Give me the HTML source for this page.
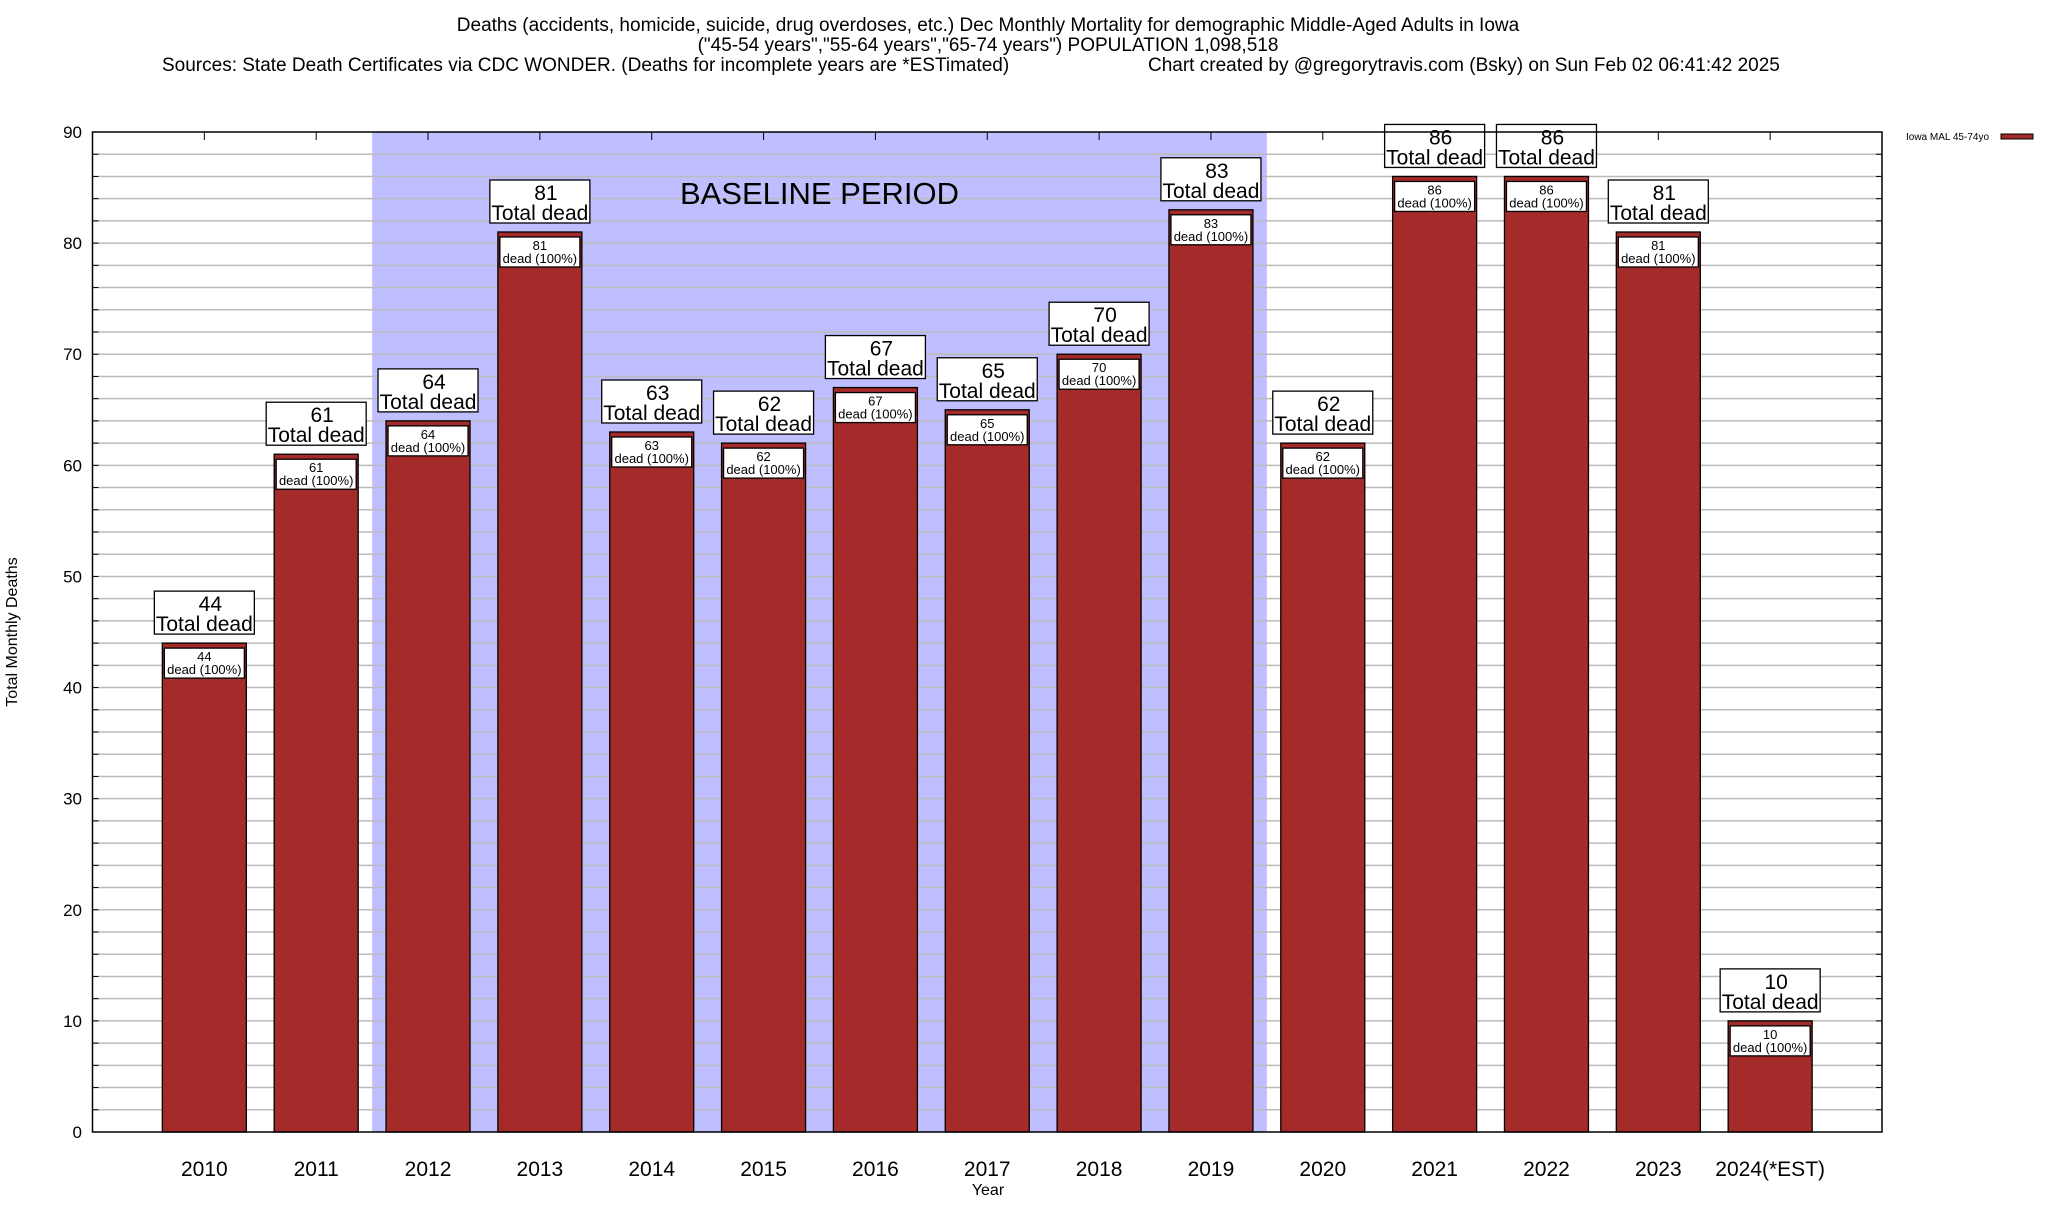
<!DOCTYPE html>
<html><head><meta charset="utf-8"><style>
body{margin:0;background:#fff;}
svg text{font-family:"Liberation Sans",sans-serif;}
</style></head><body>
<svg id="chart" width="2048" height="1200" xmlns="http://www.w3.org/2000/svg">
<g font-size="19" fill="#000">
<text x="988" y="31" text-anchor="middle">Deaths (accidents, homicide, suicide, drug overdoses, etc.) Dec Monthly Mortality for demographic Middle-Aged Adults in Iowa</text>
<text x="988" y="51" text-anchor="middle">("45-54 years","55-64 years","65-74 years") POPULATION 1,098,518</text>
<text x="162" y="71">Sources: State Death Certificates via CDC WONDER. (Deaths for incomplete years are *ESTimated)</text>
<text x="1148" y="71">Chart created by @gregorytravis.com (Bsky) on Sun Feb 02 06:41:42 2025</text>
</g>
<g id="plot"></g>
<text x="17" y="632" font-size="16" text-anchor="middle" transform="rotate(-90 17 632)">Total Monthly Deaths</text>
<text x="988" y="1195" font-size="16" text-anchor="middle">Year</text>
<g>
<text x="1906" y="140" font-size="10">Iowa MAL 45-74yo</text>
<rect x="2001" y="134" width="32" height="5" fill="#a52a2a" stroke="#000" stroke-width="1"/>
</g>
</svg>
<script>
const categories=["2010","2011","2012","2013","2014","2015","2016","2017","2018","2019","2020","2021","2022","2023","2024(*EST)"];
const values=[44,61,64,81,63,62,67,65,70,83,62,86,86,81,10];
const yTicks=[0,10,20,30,40,50,60,70,80,90];
const baselineStart=1.5, baselineEnd=9.5;
const L=92.5,R=1882,T=132,B=1132,yMax=90,nSlots=16;
const ns="http://www.w3.org/2000/svg";
const g=document.getElementById('plot');
const xs=i=>L+(i+1)*(R-L)/nSlots;
const xpos=v=>L+(v+1)*(R-L)/nSlots;
const ys=v=>B-v*(B-T)/yMax;
function mk(tag,attrs,parent){const e=document.createElementNS(ns,tag);for(const k in attrs)e.setAttribute(k,attrs[k]);(parent||g).appendChild(e);return e;}
const sh=mk('rect',{x:xpos(baselineStart),y:T,width:xpos(baselineEnd)-xpos(baselineStart),height:B-T,fill:'#bfbfff'});


for(let v=2;v<yMax;v+=2){const ln=mk('line',{x1:L,x2:R,y1:ys(v),y2:ys(v),stroke:'#bbb','stroke-width':1.5});


mk('line',{x1:L,x2:L+6,y1:ys(v),y2:ys(v),stroke:'#000'});mk('line',{x1:R-6,x2:R,y1:ys(v),y2:ys(v),stroke:'#000'});}
yTicks.forEach(v=>{const t=mk('text',{x:82,y:ys(v)+6,'font-size':17,'text-anchor':'end'});t.textContent=v;

});
const bl=mk('text',{x:(xpos(baselineStart)+xpos(baselineEnd))/2,y:204,'font-size':31,'text-anchor':'middle'});bl.textContent='BASELINE PERIOD';


const bw=84;
categories.forEach((c,i)=>{
 const cx=xs(i),v=values[i],yt=ys(v);
 mk('line',{x1:cx,x2:cx,y1:T,y2:T+8,stroke:'#000'});
 const r=mk('rect',{x:cx-bw/2,y:yt,width:bw,height:B-yt,fill:'#a52a2a',stroke:'#000','stroke-width':1.3});
 
 
 const ib=mk('rect',{x:cx-40,y:yt+5,width:80,height:30,fill:'#fff',stroke:'#000','stroke-width':1.3});
 
 
 const t1=mk('text',{x:cx,y:yt+18,'font-size':13,'text-anchor':'middle'});t1.textContent=v;
 
 
 const t2=mk('text',{x:cx,y:yt+31,'font-size':13,'text-anchor':'middle'});t2.textContent='dead (100%)';
 
 
 const ob=mk('rect',{x:cx-50,y:yt-52,width:100,height:43,fill:'#fff',stroke:'#000','stroke-width':1.3});
 
 
 const o1=mk('text',{x:cx+6,y:yt-32,'font-size':21,'text-anchor':'middle'});o1.textContent=v;
 
 
 const o2=mk('text',{x:cx,y:yt-12,'font-size':21,'text-anchor':'middle'});o2.textContent='Total dead';
 
 
 const xl=mk('text',{x:cx,y:1176,'font-size':21,'text-anchor':'middle'});xl.textContent=c;
 
 
});
const fr=mk('rect',{x:L,y:T,width:R-L,height:B-T,fill:'none',stroke:'#000','stroke-width':1.5});


</script>
</body></html>
